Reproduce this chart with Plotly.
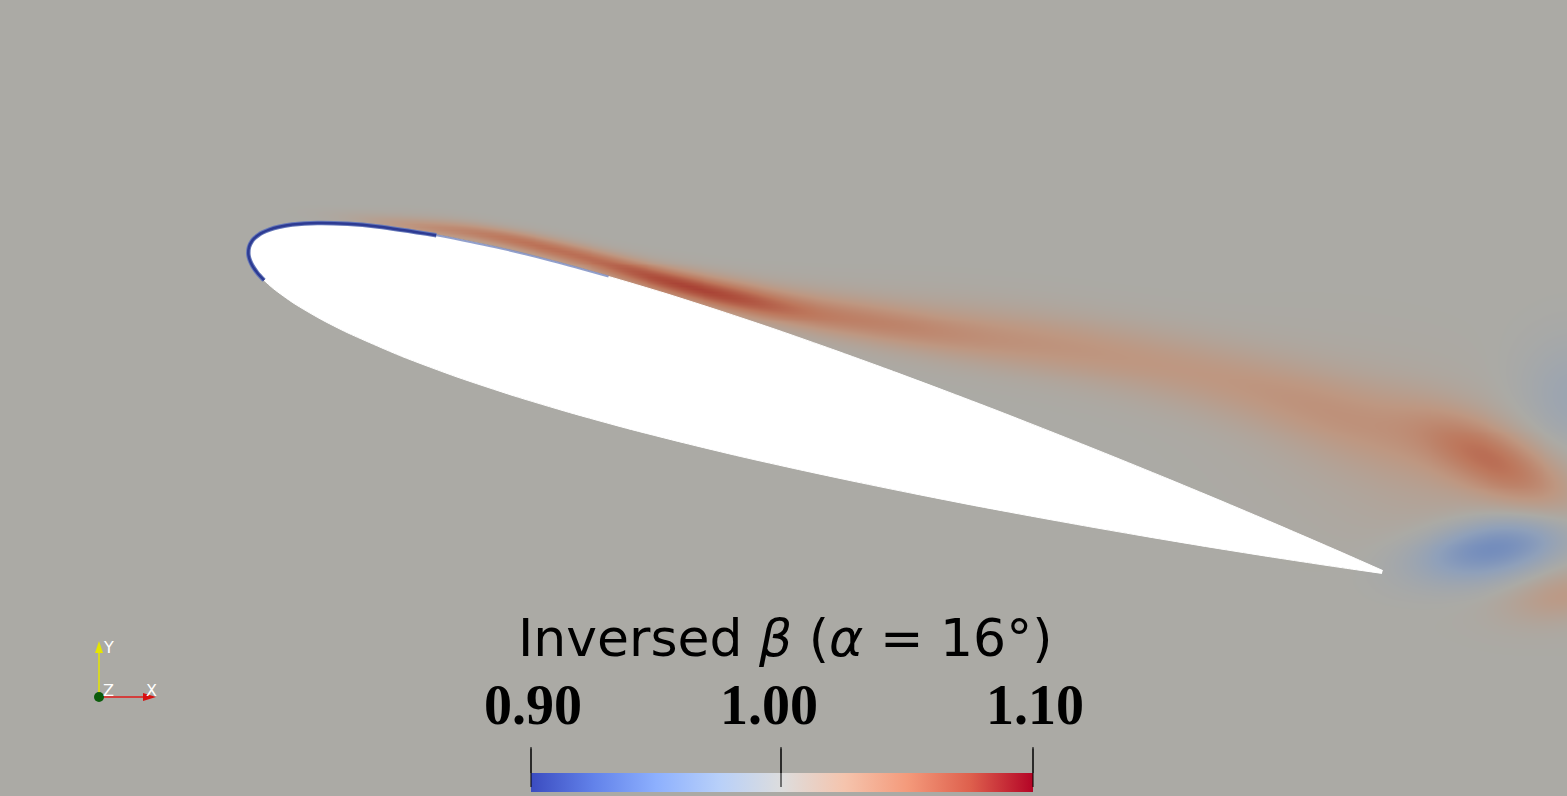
import numpy as np
import plotly.graph_objects as go

W, H = 1567, 796
BG = "#abaaa4"

# NACA 0012 half thickness (x/c, y/c), pitched by alpha
foil_x = [0.0, 0.001, 0.0025, 0.005, 0.0075, 0.0125, 0.02, 0.03, 0.05, 0.075, 0.1, 0.15,
          0.2, 0.25, 0.3, 0.35, 0.4, 0.45, 0.5, 0.55, 0.6, 0.65, 0.7, 0.75, 0.8, 0.85,
          0.9, 0.95, 0.975, 1.0]
foil_t = [0.0, 0.00556, 0.00872, 0.01221, 0.01485, 0.01894, 0.0236, 0.0284, 0.03555, 0.042,
          0.04683, 0.05345, 0.05737, 0.05941, 0.06002, 0.05953, 0.05803, 0.05587, 0.05294,
          0.04952, 0.04563, 0.04139, 0.03664, 0.0316, 0.02623, 0.02053, 0.01448, 0.00807,
          0.00471, 0.00126]
alpha_deg = 16

# features of the inversed-beta field (x/c, y/c), peak (beta - 1), spread along/across, tilt
blob_x = [0.154, 0.238, 0.332, 0.408, 0.510, 0.637, 0.790, 0.934, 1.057, 1.055, 1.125, 1.116, 1.010]
blob_y = [0.016, 0.003, -0.023, -0.041, -0.060, -0.077, -0.104, -0.147, -0.181, -0.255, -0.130, -0.295, -0.189]
blob_amp = [0.028, 0.042, 0.052, 0.048, 0.032, 0.021, 0.017, 0.018, 0.042, -0.05, -0.015, 0.02, 0.01]
blob_along = [0.042, 0.045, 0.05, 0.05, 0.07, 0.085, 0.095, 0.08, 0.048, 0.045, 0.035, 0.035, 0.10]
blob_across = [0.0045, 0.0055, 0.007, 0.009, 0.012, 0.017, 0.021, 0.024, 0.019, 0.018, 0.035, 0.015, 0.05]
blob_tilt = [7, 12, 15, 13, 10, 9, 13, 18, 28, -10, 0, -10, 20]

cbar_ticks = [0.90, 1.00, 1.10]
cbar_labels = ["0.90", "1.00", "1.10"]

# paraview cool to warm
coolwarm = [(59, 76, 192), (98, 130, 234), (141, 176, 254), (184, 208, 249), (221, 221, 221),
            (245, 196, 173), (244, 154, 123), (222, 96, 77), (180, 4, 38)]
shade = (0.775, 0.77, 0.745)

def cscale(cols, f=(1, 1, 1)):
    n = len(cols) - 1
    return [[i / n, "rgb(%d,%d,%d)" % tuple(round(c * k) for c, k in zip(col, f))]
            for i, col in enumerate(cols)]

# scene: 1179 px per chord, leading edge at pixel (249, 247)
S, LEX, LEY = 1179.0, 249.0, 247.0
xr = [-LEX / S, (W - LEX) / S]
yr = [(LEY - H) / S, LEY / S]

def px(x):
    return x / W

def py(y):
    return 1 - y / H

# field
gx = np.arange(xr[0], xr[1] + 0.0025, 0.0025)
gy = np.arange(yr[0], yr[1] + 0.0025, 0.0025)
XX, YY = np.meshgrid(gx, gy)
Z = np.ones_like(XX)
for bx, by, a, sl, sc, t in zip(blob_x, blob_y, blob_amp, blob_along, blob_across, blob_tilt):
    t = np.radians(t)
    dx, dy = XX - bx, YY - by
    u = dx * np.cos(t) - dy * np.sin(t)
    v = dx * np.sin(t) + dy * np.cos(t)
    Z += a * np.exp(-0.5 * ((u / sl) ** 2 + (v / sc) ** 2))

# airfoil outline
a = np.radians(alpha_deg)
fx = np.array(foil_x)
ft = np.array(foil_t)
ox = np.concatenate([fx[::-1], fx[1:]])
oy = np.concatenate([ft[::-1], -ft[1:]])
rx = ox * np.cos(a) + oy * np.sin(a)
ry = -ox * np.sin(a) + oy * np.cos(a)

fig = go.Figure()
fig.add_trace(go.Heatmap(x=gx, y=gy, z=Z, zmin=0.9, zmax=1.1, zsmooth="best",
                         colorscale=cscale(coolwarm, shade), showscale=False, hoverinfo="skip"))
fig.add_trace(go.Scatter(x=rx, y=ry, mode="lines", fill="toself", fillcolor="white",
                         line=dict(color="white", width=1, shape="spline", smoothing=0.6),
                         hoverinfo="skip"))

# low beta along the nose (wall)
nu = len(fx)
def wall(lo, hi, upper_only=False):
    idx = [i for i in range(len(ox))
           if (ox[i] <= hi and (i <= nu - 1)) or (not upper_only and i >= nu - 1 and ox[i] <= lo)]
    return rx[idx], ry[idx]

wx, wy = wall(0.02, 0.15)
fig.add_trace(go.Scatter(x=wx, y=wy, mode="lines", line=dict(color="#6577b8", width=4.5, shape="spline"),
                         hoverinfo="skip"))
fig.add_trace(go.Scatter(x=wx, y=wy, mode="lines", line=dict(color="#2d3b93", width=2.5, shape="spline"),
                         hoverinfo="skip"))
wx2, wy2 = wall(0, 0.3, True)
sel = [i for i in range(len(wx2)) if 0.14 < wx2[i]]
fig.add_trace(go.Scatter(x=wx2[sel], y=wy2[sel], mode="lines",
                         line=dict(color="rgba(120,138,192,0.8)", width=2, shape="spline"),
                         hoverinfo="skip"))

# colorbar carrier
fig.add_trace(go.Scatter(x=[0, 0], y=[0, 0], mode="markers",
                         marker=dict(color=[0.9, 1.1], cmin=0.9, cmax=1.1, opacity=0,
                                     colorscale=cscale(coolwarm), showscale=True,
                                     colorbar=dict(orientation="h", x=px(782), xanchor="center",
                                                   y=py(792), yanchor="bottom", lenmode="pixels",
                                                   len=502, thickness=19, xpad=0, ypad=0,
                                                   outlinewidth=0, tickvals=cbar_ticks,
                                                   ticks="", showticklabels=False)),
                         hoverinfo="skip"))

shapes = []
for xp in [531, 781, 1033]:
    shapes.append(dict(type="line", xref="paper", yref="paper", x0=px(xp), x1=px(xp),
                       y0=py(747), y1=py(773), line=dict(color="black", width=1)))

# orientation axes
shapes += [
    dict(type="line", xref="paper", yref="paper", x0=px(99), x1=px(99), y0=py(697), y1=py(651),
         line=dict(color="#e6e600", width=1.5)),
    dict(type="path", xref="paper", yref="paper", fillcolor="#e6e600", line=dict(width=0),
         path="M %f %f L %f %f L %f %f Z" % (px(95), py(653), px(103), py(653), px(99), py(641))),
    dict(type="line", xref="paper", yref="paper", x0=px(99), x1=px(144), y0=py(697), y1=py(697),
         line=dict(color="#e01a1a", width=1.5)),
    dict(type="path", xref="paper", yref="paper", fillcolor="#d81010", line=dict(width=0),
         path="M %f %f L %f %f L %f %f Z" % (px(143), py(693), px(143), py(701), px(156), py(697))),
    dict(type="circle", xref="paper", yref="paper", x0=px(94), x1=px(104), y0=py(702), y1=py(692),
         fillcolor="#0b5c0b", line=dict(width=0)),
]

ann = [dict(text="Inversed <i>β</i> (<i>α</i> = 16°)", x=px(785), y=py(638), xref="paper", yref="paper",
            showarrow=False, xanchor="center", yanchor="middle",
            font=dict(family="DejaVu Sans", size=52, color="black"))]
for lab, xc in zip(cbar_labels, [533, 769, 1035]):
    ann.append(dict(text="<b>%s</b>" % lab, x=px(xc), y=py(705), xref="paper", yref="paper",
                    showarrow=False, xanchor="center", yanchor="middle",
                    font=dict(family="Liberation Serif", size=56, color="black")))
# tick marks crossing into the bar
for xp in [531, 781, 1033]:
    ann.append(dict(text="", x=px(xp), y=py(787), xref="paper", yref="paper", showarrow=True,
                    ax=0, ay=-40, arrowhead=0, arrowwidth=1, arrowcolor="black", standoff=0))
for lab, xc, yc in [("Y", 108, 647), ("Z", 109, 690), ("X", 151, 690)]:
    ann.append(dict(text=lab, x=px(xc), y=py(yc), xref="paper", yref="paper", showarrow=False,
                    xanchor="center", yanchor="middle",
                    font=dict(family="DejaVu Sans", size=16, color="white")))

fig.update_layout(width=W, height=H, margin=dict(l=0, r=0, t=0, b=0),
                  paper_bgcolor=BG, plot_bgcolor=BG, showlegend=False,
                  xaxis=dict(range=xr, visible=False, showgrid=False, zeroline=False),
                  yaxis=dict(range=yr, visible=False, showgrid=False, zeroline=False),
                  shapes=shapes, annotations=ann)

pin = ("var d=document.getElementById('{plot_id}');d.style.position='fixed';d.style.top='0';"
       "d.style.left='0';document.body.style.margin='0';document.body.style.background='%s';"
       "document.documentElement.style.background='%s';"
       "document.documentElement.style.overflow='hidden';document.body.style.overflow='hidden';" % (BG, BG))
fig.write_html("out.html", config={"displayModeBar": False}, post_script=pin)
